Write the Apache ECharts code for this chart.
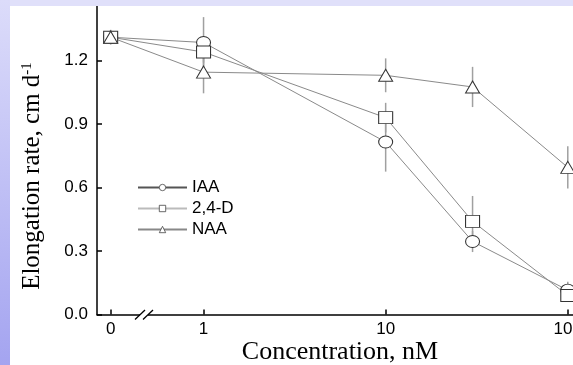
<!DOCTYPE html>
<html>
<head>
<meta charset="utf-8">
<title>Elongation rate vs concentration</title>
<script src="https://cdn.jsdelivr.net/npm/echarts@6/dist/echarts.min.js"></script>
<style>
  html, body { margin: 0; padding: 0; background: #fff; }
  #main { width: 573px; height: 365px; }
</style>
</head>
<body>
<div id="main"></div>
<script>
// concentrations (nM); 0 is drawn left of the axis break
var concentrations = [0, 1, 10, 30, 100];
var tickConc = [0, 1, 10, 100];
var tickLabels = ['0', '1', '10', '100'];
var ZERO_POS = -0.51;

var iaa    = [1.31, 1.285, 0.815, 0.345, 0.115];
var iaaErr = [0.035, 0.12, 0.14, 0.05, 0.04];
var d24    = [1.31, 1.24, 0.93, 0.44, 0.09];
var d24Err = [0.02, 0.05, 0.07, 0.12, 0.025];
var naa    = [1.31, 1.145, 1.13, 1.075, 0.695];
var naaErr = [0.02, 0.10, 0.08, 0.095, 0.10];

var seriesNames = ['IAA', '2,4-D', 'NAA'];
var seriesSymbols = ['circle', 'rect', 'triangle'];

function xPos(c) { return c === 0 ? ZERO_POS : Math.log10(c); }

function pts(vals) {
    return concentrations.map(function (c, i) { return [xPos(c), vals[i]]; });
}
function errPts(vals, errs) {
    return concentrations.map(function (c, i) { return [xPos(c), vals[i], errs[i]]; });
}

var tickPos = tickConc.map(xPos);

var chart = echarts.init(document.getElementById('main'));

function lineSeries(name, symbol, vals) {
    return {
        name: name,
        type: 'line',
        data: pts(vals),
        symbol: symbol,
        symbolSize: [14, 12],
        z: 3,
        clip: false,
        lineStyle: { color: '#8a8a8a', width: 1 },
        itemStyle: { color: '#fff', borderColor: '#333', borderWidth: 1 },
        emphasis: { disabled: true }
    };
}

function errSeries(vals, errs) {
    return {
        type: 'custom',
        z: 2,
        silent: true,
        data: errPts(vals, errs),
        renderItem: function (params, api) {
            var x = api.value(0), v = api.value(1), e = api.value(2);
            var a = api.coord([x, v + e]);
            var b = api.coord([x, v - e]);
            return {
                type: 'line',
                shape: { x1: a[0], y1: a[1], x2: b[0], y2: b[1] },
                style: { stroke: '#a0a0a0', lineWidth: 1.5 }
            };
        }
    };
}

chart.setOption({
    backgroundColor: '#fff',
    animation: false,
    grid: { left: 97, right: -13, top: -3, bottom: 50.5, outerBoundsMode: 'none', containLabel: false },
    legend: {
        orient: 'vertical',
        left: 132,
        top: 174,
        itemWidth: 49,
        itemHeight: 8,
        itemGap: 4,
        itemStyle: { borderWidth: 0.8, borderColor: '#444' },
        textStyle: { fontFamily: 'Liberation Sans', fontSize: 17, color: '#000' },
        data: [
            { name: 'IAA', lineStyle: { color: '#555' } },
            { name: '2,4-D', lineStyle: { color: '#bbb' } },
            { name: 'NAA', lineStyle: { color: '#888' } }
        ]
    },
    xAxis: {
        type: 'value',
        min: -0.585,
        max: 2.1,
        splitLine: { show: false },
        axisLine: { onZero: false, lineStyle: { color: '#000', width: 1.5 } },
        axisTick: { inside: true, length: 5, lineStyle: { color: '#000', width: 1.5 }, customValues: tickPos },
        axisLabel: {
            customValues: tickPos,
            margin: 6,
            fontFamily: 'Liberation Sans', fontSize: 17, color: '#000',
            formatter: function (v) {
                for (var i = 0; i < tickPos.length; i++) {
                    if (Math.abs(tickPos[i] - v) < 1e-6) return tickLabels[i];
                }
                return '';
            }
        }
    },
    yAxis: {
        type: 'value',
        min: 0,
        max: 1.5,
        interval: 0.3,
        splitLine: { show: false },
        axisLine: { show: true, onZero: false, lineStyle: { color: '#000', width: 1.5 } },
        axisTick: { show: true, inside: true, length: 5, lineStyle: { color: '#000', width: 1.5 } },
        axisLabel: {
            margin: 9, showMaxLabel: false,
            fontFamily: 'Liberation Sans', fontSize: 17, color: '#000',
            formatter: function (v) { return v.toFixed(1); }
        }
    },
    series: [
        errSeries(iaa, iaaErr),
        errSeries(d24, d24Err),
        errSeries(naa, naaErr),
        lineSeries(seriesNames[0], seriesSymbols[0], iaa),
        lineSeries(seriesNames[1], seriesSymbols[1], d24),
        lineSeries(seriesNames[2], seriesSymbols[2], naa)
    ]
});

// axis break marks and page decoration
var bp = chart.convertToPixel({ gridIndex: 0 }, [-0.327, 0]);
var bx = bp[0], by = bp[1];

chart.setOption({
    graphic: [
        {
            type: 'rect', z: 100,
            shape: { x: 0, y: 0, width: 573, height: 6 },
            style: { fill: '#e0e0fa' }
        },
        {
            type: 'rect', z: 100,
            shape: { x: 0, y: 0, width: 10, height: 365 },
            style: {
                fill: new echarts.graphic.LinearGradient(0, 0, 0, 1, [
                    { offset: 0, color: '#dcdcfa' },
                    { offset: 1, color: '#a4a4f0' }
                ])
            }
        },
        {
            type: 'rect', z: 50,
            shape: { x: bx - 4, y: by - 2, width: 8, height: 4 },
            style: { fill: '#fff' }
        },
        {
            type: 'line', z: 51,
            shape: { x1: bx - 9, y1: by + 5, x2: bx + 1, y2: by - 4.5 },
            style: { stroke: '#000', lineWidth: 1.3 }
        },
        {
            type: 'line', z: 51,
            shape: { x1: bx - 1, y1: by + 5, x2: bx + 9, y2: by - 4.5 },
            style: { stroke: '#000', lineWidth: 1.3 }
        },
        {
            type: 'text', z: 60,
            x: 340, y: 352,
            style: {
                text: 'Concentration, nM',
                fontFamily: 'Liberation Serif', fontSize: 26, fill: '#000',
                align: 'center', verticalAlign: 'middle'
            }
        },
        {
            type: 'text', z: 60,
            x: 32, y: 176,
            rotation: Math.PI / 2,
            style: {
                text: 'Elongation rate, cm d{sup|-1}',
                fontFamily: 'Liberation Serif', fontSize: 25, fill: '#000',
                align: 'center', verticalAlign: 'middle',
                rich: {
                    sup: { fontFamily: 'Liberation Serif', fontSize: 15, fill: '#000', verticalAlign: 'top', padding: [0, 0, 8, 0] }
                }
            }
        }
    ]
});
</script>
</body>
</html>
